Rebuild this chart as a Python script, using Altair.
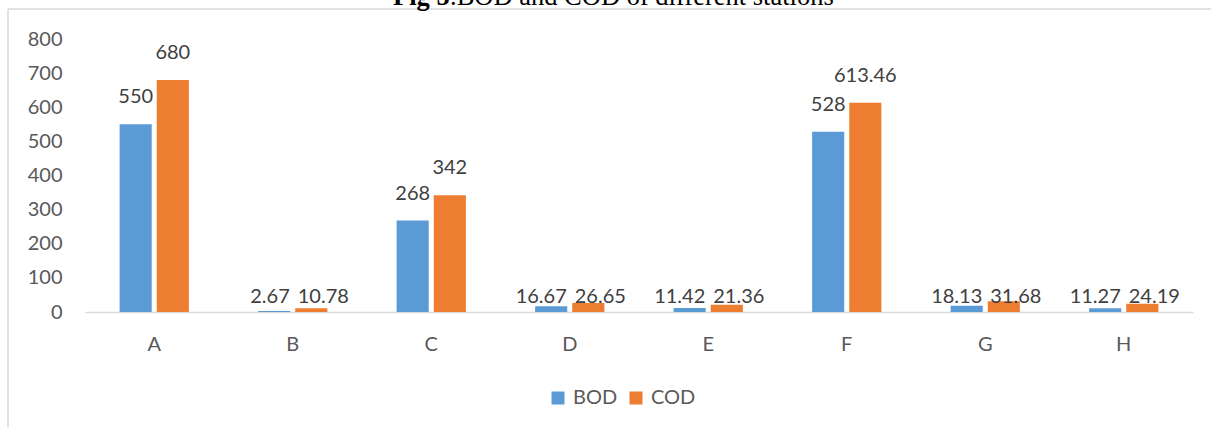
import altair as alt
import pandas as pd

stations = ["A", "B", "C", "D", "E", "F", "G", "H"]
bod = [550, 2.67, 268, 16.67, 11.42, 528, 18.13, 11.27]
cod = [680, 10.78, 342, 26.65, 21.36, 613.46, 31.68, 24.19]
series = ["BOD", "COD"]
colors = ["#5B9BD5", "#ED7D31"]
y_ticks = [0, 100, 200, 300, 400, 500, 600, 700, 800]
title_bold = "Fig 5"
title_rest = ".BOD and COD of different stations"

rows = []
for s, b, c in zip(stations, bod, cod):
    rows.append({"station": s, "param": "BOD", "value": b, "label": f"{b:g}"})
    rows.append({"station": s, "param": "COD", "value": c, "label": f"{c:g}"})
df = pd.DataFrame(rows)

FONT = "Lato"
W, H = 1108, 273
PL, PT = 85, 39

xscale = alt.Scale(paddingInner=0.5, paddingOuter=0.25)
xoff = alt.Scale(paddingInner=0.135, paddingOuter=0)
yscale = alt.Scale(domain=[0, 800], nice=False)

xaxis = alt.Axis(labelAngle=0, domainColor="#d9d9d9", domainWidth=1.5,
                 ticks=False, grid=False, labelColor="#595959",
                 labelFont=FONT, labelFontSize=20, labelPadding=22)
yaxis = alt.Axis(values=y_ticks, domain=False, ticks=False, grid=False,
                 labelOverlap=False, labelColor="#595959", labelFont=FONT,
                 labelFontSize=20, labelPadding=23)


def xenc():
    return alt.X("station:N", scale=xscale, sort=stations, title=None, axis=xaxis)


def yenc(field):
    return alt.Y(field, scale=yscale, title=None, axis=yaxis)


base = alt.Chart(df)

bars = base.mark_bar().encode(
    x=xenc(),
    xOffset=alt.XOffset("param:N", scale=xoff, sort=series),
    y=yenc("value:Q"),
    color=alt.Color("param:N", sort=series,
                    scale=alt.Scale(domain=series, range=colors),
                    legend=alt.Legend(title=None, orient="none", direction="horizontal",
                                      legendX=463, legendY=349, symbolType="square",
                                      symbolSize=169, symbolStrokeWidth=0,
                                      labelFont=FONT, labelFontSize=20,
                                      labelColor="#595959", labelOffset=5,
                                      columnPadding=8, padding=0)),
)

big = base.transform_filter("datum.value >= 100").mark_text(
    font=FONT, fontSize=20, color="#404040", baseline="middle", dy=-27
).encode(
    x=xenc(),
    xOffset=alt.XOffset("param:N", scale=xoff, sort=series),
    y=yenc("value:Q"),
    text="label:N",
)

small_bod = base.transform_filter("datum.value < 100 && datum.param == 'BOD'").transform_calculate(
    base0="0"
).mark_text(
    font=FONT, fontSize=20, color="#404040", baseline="middle", align="right", dx=-3, dy=-15
).encode(
    x=xenc(),
    y=yenc("base0:Q"),
    text="label:N",
)

small_cod = base.transform_filter("datum.value < 100 && datum.param == 'COD'").transform_calculate(
    base0="0"
).mark_text(
    font=FONT, fontSize=20, color="#404040", baseline="middle", align="left", dx=5, dy=-15
).encode(
    x=xenc(),
    y=yenc("base0:Q"),
    text="label:N",
)

frame_df = pd.DataFrame({"k": [1]})
frame_v = alt.Chart(frame_df).mark_rule(color="#d9d9d9", strokeWidth=1.5).encode(
    x=alt.value(8 - PL), y=alt.value(9 - PT), y2=alt.value(427 - PT + 5)
)
frame_h = alt.Chart(frame_df).mark_rule(color="#d9d9d9", strokeWidth=1.5).encode(
    x=alt.value(8 - PL), x2=alt.value(1211 - PL + 5), y=alt.value(9 - PT)
)
# white masks over the plot's top and right edges
mask_top = alt.Chart(frame_df).mark_rule(color="white", strokeWidth=3).encode(
    x=alt.value(-2), x2=alt.value(W + 3), y=alt.value(0)
)
mask_right = alt.Chart(frame_df).mark_rule(color="white", strokeWidth=3).encode(
    x=alt.value(W), y=alt.value(-2), y2=alt.value(H - 2)
)

t1 = alt.Chart(pd.DataFrame({"t": [title_bold]})).mark_text(
    font="Liberation Serif", fontSize=26.5, fontWeight="bold", color="#000000",
    align="left", baseline="alphabetic"
).encode(x=alt.value(393 - PL), y=alt.value(5 - PT), text="t:N")
t2 = alt.Chart(pd.DataFrame({"t": [title_rest]})).mark_text(
    font="Liberation Serif", fontSize=26.5, color="#000000",
    align="left", baseline="alphabetic"
).encode(x=alt.value(450 - PL), y=alt.value(5 - PT), text="t:N")

chart = alt.layer(bars, big, small_bod, small_cod, frame_v, frame_h,
                  mask_top, mask_right, t1, t2).properties(
    width=W, height=H,
    background="white",
    view=alt.ViewBackground(stroke="transparent", strokeWidth=0),
    autosize=alt.AutoSizeParams(type="none"),
    padding={"left": PL, "top": PT, "right": 1211 - PL - W, "bottom": 427 - PT - H},
).configure_view(strokeWidth=0, stroke="transparent").configure_axisY(
    labelOverlap=False
)

chart.save("out.html", embed_options={"renderer": "svg", "actions": False})
